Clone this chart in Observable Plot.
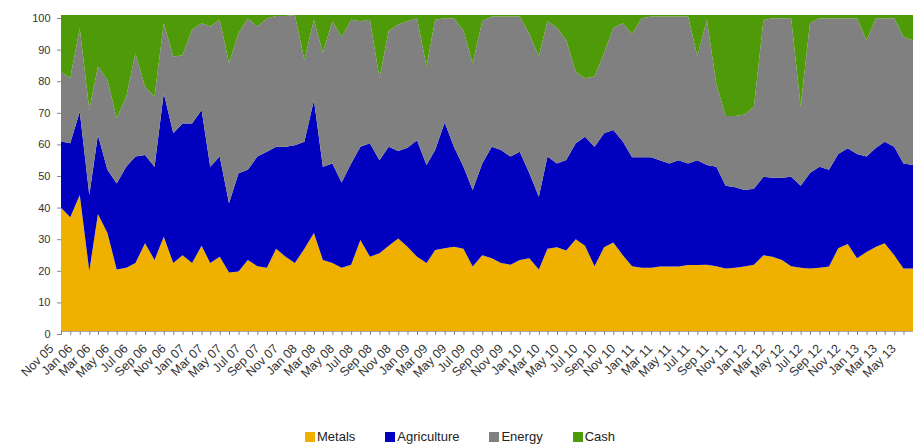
<!DOCTYPE html>
<html><head><meta charset="utf-8">
<script src="https://cdn.jsdelivr.net/npm/d3@7"></script>
<script src="https://cdn.jsdelivr.net/npm/@observablehq/plot@0.6"></script>
<style>
body{margin:0;background:#fff;font-family:"Liberation Sans",Arial,sans-serif;}
#wrap{position:relative;width:913px;height:445px;overflow:hidden}
#legend{position:absolute;left:305px;top:429px;display:flex;gap:30px;font-size:13px;color:#222;line-height:16px}
#legend .it{display:flex;align-items:center;gap:2px}
#legend .sw{width:10px;height:10px;display:inline-block}
</style></head><body><div id="wrap"><div id="chart"></div><div id="legend"></div></div>
<script>
const seriesNames = ["Metals", "Agriculture", "Energy", "Cash"];
const seriesColors = ["#F0B000", "#0000BE", "#808080", "#4E9A08"];
const yTicks = [0,10,20,30,40,50,60,70,80,90,100];

const metals = [39,36,43,19,37,31,19.5,20,21.5,27.8,
22.5,29.8,21.5,24,21.5,27,21.5,23.5,18.5,18.8,
22.5,20.5,20,26,23.5,21.5,26,31,22.5,21.5,
20,21,28.8,23.5,24.6,27,29.3,26.7,23.5,21.5,
25.6,26.2,26.7,26,20.4,24,23,21.5,21,22.5,
23,19.5,26,26.5,25.5,29,27,20.5,26.5,28,
24,20.5,20,20,20.4,20.4,20.4,20.9,20.9,21,
20.5,19.8,20,20.4,21,24,23.5,22.5,20.5,20,
19.8,20,20.4,26.2,27.5,23,25,26.7,27.8,24,
19.8,19.8];
const agriculture = [21,23.4,26.4,24,25,20,27.2,32,33.7,27.9,
29.5,45.4,41.1,41.7,44.2,42.9,30.5,31.7,21.9,31.1,
28.5,34.7,36.7,32.3,34.8,37.3,33.9,42.1,29.5,31.5,
27,32,29.5,35.9,29.4,31.3,27.7,31.3,36.9,31,
31.7,39.8,31.6,26,24.2,29,35.3,35.8,34.2,34.2,
27,23,29.2,26.5,28.6,30.4,34.5,37.8,36.1,35.6,
36,34.5,35,35,33.6,32.6,33.6,32.1,33.1,31.5,
31.5,26.2,25.5,24.2,24,24.8,25,26,28.3,26,
30.2,32,30.6,29.8,30.3,33,30.2,31.3,32.1,34.3,
33.2,32.7];
const energy = [22,20.6,26.4,27,21.7,28.4,20.6,22.1,32.7,21.6,
22.1,22.2,24.2,21.6,29.6,27.5,44.4,43.3,44.3,44.3,
47.9,41.2,42.2,41.4,41.4,41.2,25.9,25.4,36,45,
46,45.5,39.7,39.1,26,36.7,40,40,38.6,31.2,
41.2,33,40.7,43,40.1,45,41.2,42.2,44.3,42.8,
44,44.5,42.8,43,37.9,22.6,18.5,22.2,25.4,32.4,
37.4,39,44,44.5,45.5,46.5,45.5,46.5,33,46,
26,22,22.5,23.9,26,49.6,50.5,50.5,50.2,25,
47.4,47,48,43,41.2,43,36.8,41,39.1,40.7,
40,39.5];
const cash = [18,20,4.2,30,16.3,20.6,32.7,25.9,12.1,22.7,
25.9,2.6,13.2,12.7,4.7,2.6,3.6,1.5,15.3,5.8,
1.1,3.6,1.1,0.3,0.3,0,14.2,1.5,12,2,
7,1.5,2,1.5,20,5,3,2,1,16.3,
1.5,1,1,5,15.3,2,0.5,0.5,0.5,0.5,
6,13,2,4,8,18,20,19.5,12,4,
2.6,6,1,0.5,0.5,0.5,0.5,0.5,13,1.5,
22,32,32,31.5,29,1.6,1,1,1,29,
2.6,1,1,1,1,1,8,1,1,1,
7,8];

const months = d3.utcMonth.range(new Date(Date.UTC(2005,10,1)), new Date(Date.UTC(2013,6,1)));
const seriesValues = [metals, agriculture, energy, cash];
const rows = [];
months.forEach((d, i) => {
  seriesNames.forEach((s, k) => rows.push({date: d, series: s, value: seriesValues[k][i]}));
});
const fmt = d3.utcFormat("%b %y");

const chart = Plot.plot({
  width: 913, height: 415,
  marginLeft: 61, marginRight: 0, marginTop: 15, marginBottom: 84,
  style: {fontFamily: "'Liberation Sans', Arial, sans-serif", fontSize: "11px", color: "#333", background: "#fff"},
  x: {type: "utc", domain: [months[0], months[months.length - 1]]},
  y: {domain: [0, 100]},
  color: {domain: seriesNames, range: seriesColors},
  marks: [
    Plot.areaY(rows, {x: "date", y: "value", fill: "series", z: "series", order: seriesNames}),
    Plot.ruleY([0], {stroke: "#aaa"}),
    Plot.axisY({ticks: yTicks, tickSize: 4, tickPadding: 7, fontSize: 11, dy: 3, label: null, stroke: "#888", fill: "#333"}),
    Plot.axisX({ticks: months, tickFormat: null, text: null, tickSize: 4, label: null, stroke: "#888"}),
    Plot.axisX({ticks: months.filter(d => d.getUTCMonth() % 2 === 0), tickFormat: fmt, tickRotate: -45, tickSize: 0, tickPadding: 2, fontSize: 12.5, dx: -10, dy: 13, label: null, fill: "#333"})
  ]
});
document.getElementById("chart").appendChild(chart);

const legend = document.getElementById("legend");
seriesNames.forEach((s, k) => {
  const it = document.createElement("span");
  it.className = "it";
  it.innerHTML = `<span class="sw" style="background:${seriesColors[k]}"></span><span>${s}</span>`;
  legend.appendChild(it);
});
</script></body></html>
